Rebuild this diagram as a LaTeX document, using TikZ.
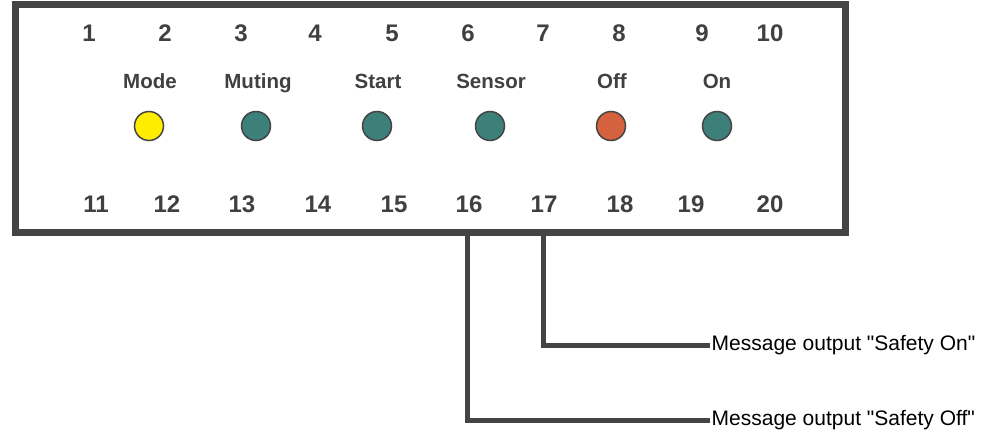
\documentclass[tikz,border=0pt]{standalone}
\usepackage{fontspec}
\setmainfont{Liberation Sans}
\newfontfamily\plainarial{Liberation Sans}
\usepackage{xcolor}
\definecolor{panelgray}{RGB}{68,68,68}
\definecolor{textgray}{RGB}{64,64,64}
\definecolor{modeyellow}{RGB}{255,237,0}
\definecolor{ledteal}{RGB}{61,127,121}
\definecolor{offorange}{RGB}{212,98,62}

\begin{document}
\begin{tikzpicture}[x=1pt, y=-1pt,
    terminal/.style={textgray, font=\fontsize{24}{24}\selectfont\bfseries, inner sep=0pt, anchor=base},
    ledname/.style={textgray, font=\fontsize{20.5}{20.5}\selectfont\bfseries, inner sep=0pt, anchor=base},
    led/.style={circle, draw=panelgray, line width=1.5pt, minimum size=29pt, inner sep=0pt},
    wire/.style={panelgray, line width=5pt, line join=miter},
    message/.style={black, font=\plainarial\fontsize{21}{21}\selectfont, anchor=west, inner sep=1.5pt}]
    \useasboundingbox (0,0) rectangle (996,438);

    % Housing
    \node[draw=panelgray, line width=7pt, minimum width=830pt, minimum height=227.5pt, inner sep=0pt] (panel) at (430.5,118.75) {};

    % Upper terminals
    \node[terminal] (t1) at (89,41.5) {1};
    \node[terminal] (t2) at (165,41.5) {2};
    \node[terminal] (t3) at (241,41.5) {3};
    \node[terminal] (t4) at (315,41.5) {4};
    \node[terminal] (t5) at (392,41.5) {5};
    \node[terminal] (t6) at (468,41.5) {6};
    \node[terminal] (t7) at (543,41.5) {7};
    \node[terminal] (t8) at (619,41.5) {8};
    \node[terminal] (t9) at (702,41.5) {9};
    \node[terminal] (t10) at (770,41.5) {10};

    % Status LEDs
    \node[ledname] (lmode) at (150,88.5) {Mode};
    \node[ledname] (lmuting) at (258,88.5) {Muting};
    \node[ledname] (lstart) at (378,88.5) {Start};
    \node[ledname] (lsensor) at (491,88.5) {Sensor};
    \node[ledname] (loff) at (612,88.5) {Off};
    \node[ledname] (lon) at (717,88.5) {On};
    \node[led, fill=modeyellow] (dmode) at (149,126) {};
    \node[led, fill=ledteal] (dmuting) at (256,126) {};
    \node[led, fill=ledteal] (dstart) at (377,126) {};
    \node[led, fill=ledteal] (dsensor) at (490,126) {};
    \node[led, fill=offorange] (doff) at (611,126) {};
    \node[led, fill=ledteal] (don) at (717,126) {};

    % Lower terminals
    \node[terminal] (t11) at (96,212.5) {11};
    \node[terminal] (t12) at (167,212.5) {12};
    \node[terminal] (t13) at (242,212.5) {13};
    \node[terminal] (t14) at (318,212.5) {14};
    \node[terminal] (t15) at (394,212.5) {15};
    \node[terminal] (t16) at (469,212.5) {16};
    \node[terminal] (t17) at (544,212.5) {17};
    \node[terminal] (t18) at (620,212.5) {18};
    \node[terminal] (t19) at (691,212.5) {19};
    \node[terminal] (t20) at (770,212.5) {20};

    % Message outputs
    \node[message] (msgon) at (710,345) {Message output "Safety On"};
    \node[message] (msgoff) at (710,420) {Message output "Safety Off"};
    \coordinate (out16) at (467.5,232.5);
    \coordinate (out17) at (543.5,232.5);
    \draw[wire] (out17) -- (out17 |- msgon.west) -- (msgon.west);
    \draw[wire] (out16) -- (out16 |- msgoff.west) -- (msgoff.west);
\end{tikzpicture}
\end{document}
